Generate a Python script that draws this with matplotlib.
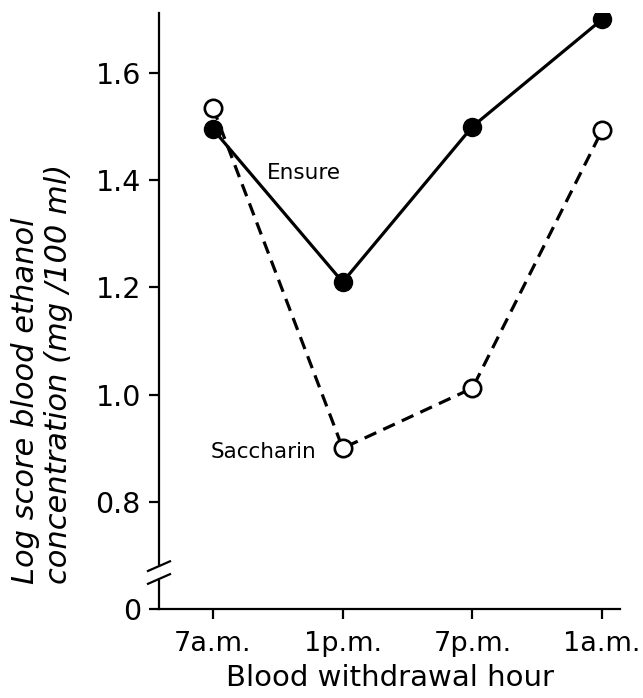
import matplotlib
matplotlib.use("Agg")
import matplotlib.pyplot as plt
from matplotlib.lines import Line2D
import matplotlib.transforms as mtransforms

# Data
hours = ["7a.m.", "1p.m.", "7p.m.", "1a.m."]
ensure = [1.495, 1.21, 1.50, 1.70]
saccharin = [1.535, 0.90, 1.012, 1.493]
ytick_vals = [0.6, 0.8, 1.0, 1.2, 1.4, 1.6]
ytick_labels = ["0", "0.8", "1.0", "1.2", "1.4", "1.6"]

plt.rcParams['font.family'] = ['DejaVu Sans']

W, H = 643, 698
fig = plt.figure(figsize=(W / 100, H / 100), dpi=100)
ax_l, ax_r, ax_t, ax_b = 159, 620, 13, 609
ax = fig.add_axes([ax_l / W, (H - ax_b) / H, (ax_r - ax_l) / W, (ax_b - ax_t) / H])

x = list(range(len(hours)))
lw = 2.3
ax.plot(x, ensure, color='black', lw=lw, marker='o', ms=13,
        mfc='black', mec='black', zorder=3)
ax.plot(x, saccharin, color='black', lw=lw, ls=(0, (4, 2.4)), marker='o', ms=12.5,
        mfc='white', mec='black', mew=1.9, zorder=4)

ax.text(0.415, 1.413, "Ensure", fontsize=15.5, ha='left', va='center')
ax.text(0.80, 0.893, "Saccharin", fontsize=15.5, ha='right', va='center')

px = 129.7
ax.set_xlim((ax_l - 213) / px, (ax_r - 213) / px)
ax.set_ylim(0.6, 0.6 + (ax_b - ax_t) / 536.0)

ax.set_xticks(x)
ax.set_xticklabels(hours, fontsize=19.5)
ax.set_yticks(ytick_vals)
ax.set_yticklabels(ytick_labels, fontsize=20.5)

for s in ['top', 'right']:
    ax.spines[s].set_visible(False)
for s in ['left', 'bottom']:
    ax.spines[s].set_linewidth(1.6)
ax.tick_params(axis='both', direction='out', length=7, width=1.6)
ax.tick_params(axis='x', pad=9)
ax.tick_params(axis='y', pad=6)

ax.set_xlabel("Blood withdrawal hour", fontsize=21, labelpad=5)
ax.set_ylabel("Log score blood ethanol\nconcentration (mg /100 ml)", fontsize=22,
              style='italic', linespacing=1.2, labelpad=16,
              multialignment='left')
ax.yaxis.label.set_y(0.395)

# axis break marks
trans = mtransforms.blended_transform_factory(ax.transAxes, ax.transData)
dx = 11 / (ax_r - ax_l)
ax.add_line(Line2D([-0.002, -0.002], [0.66, 0.676], transform=trans, color='white',
                   lw=4, clip_on=False, zorder=5))
for yc in (0.680, 0.656):
    ax.add_line(Line2D([-dx, dx], [yc - 0.009, yc + 0.009], transform=trans,
                       color='black', lw=1.6, clip_on=False, zorder=6))

fig.savefig("out.png", dpi=100, facecolor='white')
